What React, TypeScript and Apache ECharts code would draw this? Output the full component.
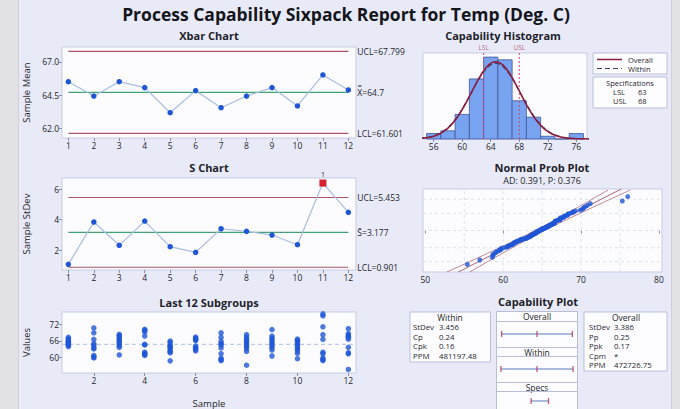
import React, { useEffect, useRef } from "react";
import * as echarts from "echarts";

// ---------- data ----------
const subgroupIds = [1, 2, 3, 4, 5, 6, 7, 8, 9, 10, 11, 12];
const xbarValues = [65.51, 64.42, 65.51, 65.06, 63.16, 64.83, 63.54, 64.42, 65.06, 63.67, 66.02, 64.88];
const sValues = [1.09, 3.85, 2.33, 3.91, 2.24, 1.87, 3.41, 3.24, 3.0, 2.37, 6.39, 4.48];
const xbarLimits = [67.799, 64.7, 61.601]; // UCL, center, LCL
const sLimits = [5.453, 3.177, 0.901];
const xbarLimitLabels = ["UCL=67.799", "X\u033F=64.7", "LCL=61.601"];
const sLimitLabels = ["UCL=5.453", "S\u0304=3.177", "LCL=0.901"];
const outOfControl = [11];

const g1 = [63.9, 64.3, 64.7, 65.0, 65.3, 65.6, 65.9, 66.3, 66.7, 67.3];
const g2 = [70.8, 69.0, 66.6, 65.0, 64.3, 63.4, 63.0, 60.6, 60.0, 59.7];
const g3 = [68.4, 67.9, 67.3, 66.6, 66.0, 65.5, 64.8, 64.2, 63.6, 60.8];
const g4 = [70.3, 69.9, 69.3, 67.8, 64.7, 64.5, 61.8, 61.4, 61.0, 60.6];
const g5 = [65.9, 65.4, 64.3, 64.0, 63.7, 63.2, 62.3, 62.0, 61.6, 58.6];
const g6 = [67.4, 67.0, 66.7, 66.4, 66.1, 64.1, 63.6, 63.2, 62.7, 62.3];
const g7 = [69.0, 67.3, 65.8, 65.0, 64.5, 63.4, 61.3, 59.6, 59.0, 58.7];
const g8 = [68.3, 67.4, 66.6, 65.9, 65.3, 64.6, 63.9, 63.1, 62.1, 57.0];
const g9 = [70.2, 67.8, 67.0, 66.3, 65.6, 64.9, 64.2, 63.5, 62.6, 60.4];
const g10 = [66.65, 66.2, 65.6, 65.0, 64.3, 63.7, 63.0, 62.3, 61.4, 59.4];
const g11 = [76.0, 75.3, 71.2, 68.3, 66.6, 61.8, 61.2, 59.7, 59.1, 58.7];
const g12 = [70.5, 68.7, 68.2, 67.75, 67.3, 66.65, 63.6, 61.6, 61.2, 55.4];
const subgroupValues = [g1, g2, g3, g4, g5, g6, g7, g8, g9, g10, g11, g12];

const histBinEdges = [55, 57, 59, 61, 63, 65, 67, 69, 71, 73, 75, 77];
const histCounts = [2, 3, 9, 22, 30, 29, 14, 8, 1, 0, 2];

const processMean = 64.7;
const overallSd = 3.386;
const withinSd = 3.456;
const lsl = 63;
const usl = 68;

const xbarTicks = [62, 64.5, 67];
const sTicks = [2, 4, 6];
const valueTicks = [60, 66, 72];
const evenTicks = [2, 4, 6, 8, 10, 12];
const histTicks = [56, 60, 64, 68, 72, 76];
const probTicks = [50, 60, 70, 80];
const probGridX = [55, 60, 65, 70, 75];
const probGridP = [0.01, 0.1, 0.5, 0.9, 0.99];

const withinLabels = ["StDev", "Cp", "Cpk", "PPM"];
const withinStats = ["3.456", "0.24", "0.16", "481197.48"];
const overallLabels = ["StDev", "Pp", "Ppk", "Cpm", "PPM"];
const overallStats = ["3.386", "0.25", "0.17", "*", "472726.75"];

// ---------- helpers ----------
const FONT = '"Open Sans", "Noto Sans", sans-serif';
const TXT = "#1f1f2b";
const LIMIT_RED = "#ad5564";
const CENTER_GREEN = "#41a375";

function invNorm(p: number): number {
  const a = [-3.969683028665376e1, 2.209460984245205e2, -2.759285104469687e2, 1.38357751867269e2, -3.066479806614716e1, 2.506628277459239];
  const b = [-5.447609879822406e1, 1.615858368580409e2, -1.556989798598866e2, 6.680131188771972e1, -1.328068155288572e1];
  const c = [-7.784894002430293e-3, -3.223964580411365e-1, -2.400758277161838, -2.549732539343734, 4.374664141464968, 2.938163982698783];
  const d = [7.784695709041462e-3, 3.224671290700398e-1, 2.445134137142996, 3.754408661907416];
  const pl = 0.02425;
  if (p < pl) {
    const q = Math.sqrt(-2 * Math.log(p));
    return (((((c[0] * q + c[1]) * q + c[2]) * q + c[3]) * q + c[4]) * q + c[5]) / ((((d[0] * q + d[1]) * q + d[2]) * q + d[3]) * q + 1);
  }
  if (p <= 1 - pl) {
    const q = p - 0.5;
    const r = q * q;
    return ((((((a[0] * r + a[1]) * r + a[2]) * r + a[3]) * r + a[4]) * r + a[5]) * q) / (((((b[0] * r + b[1]) * r + b[2]) * r + b[3]) * r + b[4]) * r + 1);
  }
  const q = Math.sqrt(-2 * Math.log(1 - p));
  return -(((((c[0] * q + c[1]) * q + c[2]) * q + c[3]) * q + c[4]) * q + c[5]) / ((((d[0] * q + d[1]) * q + d[2]) * q + d[3]) * q + 1);
}

function axis(gridIndex: number, min: number, max: number, ticks: number[] | null, extra: any = {}) {
  const show = ticks !== null;
  const { labelFormatter, ...rest } = extra;
  return {
    type: "value",
    gridIndex,
    min,
    max,
    axisLine: { show: false },
    splitLine: { show: false },
    axisTick: show ? { show: true, length: 3, lineStyle: { color: "#8a8fa8" }, customValues: ticks } : { show: false },
    axisLabel: show
      ? { show: true, customValues: ticks, fontSize: 8.5, color: TXT, fontFamily: FONT, margin: 3, formatter: labelFormatter }
      : { show: false },
    nameTextStyle: { fontSize: 9.5, color: TXT, fontFamily: FONT },
    ...rest,
  };
}

function limitSeries(gi: number, limits: number[], labels: string[]) {
  const colors = [LIMIT_RED, CENTER_GREEN, LIMIT_RED];
  return limits.map((v, i) => ({
    type: "line",
    xAxisIndex: gi,
    yAxisIndex: gi,
    data: [[subgroupIds[0], v], [subgroupIds[subgroupIds.length - 1], v]],
    symbol: "none",
    silent: true,
    lineStyle: { color: colors[i], width: 1.1 },
    endLabel: { show: true, formatter: labels[i], distance: 9, fontSize: 8.5, color: TXT, fontFamily: FONT },
    z: 2,
  }));
}

function gtext(text: string, x: number, y: number, size: number, opts: any = {}) {
  return {
    type: "text",
    x,
    y,
    style: {
      text,
      fill: opts.fill || TXT,
      fontSize: size,
      fontWeight: opts.bold ? "bold" : "normal",
      fontFamily: FONT,
      align: opts.align || "left",
      verticalAlign: opts.valign || "middle",
      lineHeight: opts.lineHeight,
    },
  };
}

function gbox(x: number, y: number, w: number, h: number) {
  return { type: "rect", shape: { x, y, width: w, height: h }, style: { fill: "#fdfdff", stroke: "#b9bfd9", lineWidth: 1 } };
}

function gline(x1: number, y1: number, x2: number, y2: number, stroke: string, dash?: number[], w = 1) {
  return { type: "line", shape: { x1, y1, x2, y2 }, style: { stroke, lineWidth: w, lineDash: dash } };
}

function buildOption() {
  const allValues = subgroupValues.flat();
  const n = allValues.length;
  const sorted = [...allValues].sort((a, b) => a - b);
  const probPoints = sorted.map((v, i) => [v, invNorm((i + 1 - 0.3) / (n + 0.4))]);

  const zMax = invNorm(0.999);
  const zs: number[] = [];
  for (let z = -zMax; z <= zMax + 1e-9; z += 0.1) zs.push(z);
  const fitLine = [[processMean - overallSd * zMax, -zMax], [processMean + overallSd * zMax, zMax]];
  const band = (sign: number) =>
    zs.map((z) => [processMean + overallSd * z + sign * 1.96 * overallSd * Math.sqrt(1 / n + (z * z) / (2 * (n - 1))), z]);

  const pdfCurve = (sd: number) => {
    const pts: number[][] = [];
    for (let x = 54; x <= 78.001; x += 0.2) {
      const y = (n * 2 * Math.exp(-0.5 * ((x - processMean) / sd) ** 2)) / (sd * Math.sqrt(2 * Math.PI));
      pts.push([x, y]);
    }
    return pts;
  };

  const subgroupPoints: number[][] = [];
  subgroupValues.forEach((g, i) => g.forEach((v) => subgroupPoints.push([subgroupIds[i], v])));

  const histTop = 31.5;
  const gridCommon = { show: true, backgroundColor: "#fcfcff", borderColor: "#c6cbe3", borderWidth: 1, containLabel: false };
  const grids = [
    { left: 62, top: 47, width: 294, height: 91, ...gridCommon },
    { left: 62, top: 178, width: 294, height: 92, ...gridCommon },
    { left: 62, top: 312, width: 294, height: 81, ...gridCommon },
    { left: 423, top: 53, width: 164, height: 86, ...gridCommon },
    { left: 423, top: 189, width: 239, height: 83, ...gridCommon },
    { left: 497, top: 322, width: 80, height: 24, show: false },
    { left: 497, top: 357, width: 80, height: 24, show: false },
    { left: 497, top: 393, width: 80, height: 20, show: false },
  ];

  const capMin = 53.2;
  const capMax = 76.2;

  const xAxes = [
    axis(0, 0.75, 12.3, subgroupIds),
    axis(1, 0.75, 12.3, subgroupIds),
    axis(2, 0.75, 12.3, evenTicks, { name: "Sample", nameLocation: "middle", nameGap: 25 }),
    axis(3, 54.5, 77.5, histTicks),
    axis(4, 49.7, 80.4, probTicks),
    axis(5, capMin, capMax, null),
    axis(6, capMin, capMax, null),
    axis(7, capMin, capMax, null),
  ];
  const yAxes = [
    axis(0, 61.25, 68.13, xbarTicks, { name: "Sample Mean", nameLocation: "middle", nameGap: 31, labelFormatter: (v: number) => v.toFixed(1) }),
    axis(1, 0.72, 6.72, sTicks, { name: "Sample StDev", nameLocation: "middle", nameGap: 31 }),
    axis(2, 54.1, 76.7, valueTicks, { name: "Values", nameLocation: "middle", nameGap: 31 }),
    axis(3, 0, histTop, null),
    axis(4, -zMax, zMax, null),
    axis(5, -1, 1, null),
    axis(6, -1, 1, null),
    axis(7, -1, 1, null),
  ];

  const ptColor = "#1f56d6";
  const lineColor = "#a8bde2";
  const capLineColor = "#5b7bc0";
  const capTickColor = "#b3334f";
  const specColor = "#cf4a6c";

  const capSeries = (gi: number, lo: number, mid: number | null, hi: number) => [
    {
      type: "line",
      xAxisIndex: gi,
      yAxisIndex: gi,
      data: [[lo, 0], [hi, 0]],
      symbol: "none",
      lineStyle: { color: capLineColor, width: 1 },
      silent: true,
    },
    {
      type: "scatter",
      xAxisIndex: gi,
      yAxisIndex: gi,
      data: (mid === null ? [lo, hi] : [lo, mid, hi]).map((v) => [v, 0]),
      symbol: "rect",
      symbolSize: [1.3, 6],
      itemStyle: { color: capTickColor },
      silent: true,
      z: 3,
    },
  ];

  const series: any[] = [
    // Xbar
    ...limitSeries(0, xbarLimits, xbarLimitLabels),
    {
      type: "line",
      xAxisIndex: 0,
      yAxisIndex: 0,
      data: subgroupIds.map((x, i) => [x, xbarValues[i]]),
      symbol: "circle",
      symbolSize: 5.5,
      lineStyle: { color: lineColor, width: 1.2 },
      itemStyle: { color: ptColor },
      z: 3,
    },
    // S chart
    ...limitSeries(1, sLimits, sLimitLabels),
    {
      type: "line",
      xAxisIndex: 1,
      yAxisIndex: 1,
      data: subgroupIds.map((x, i) =>
        outOfControl.includes(x)
          ? {
              value: [x, sValues[i]],
              symbol: "rect",
              symbolSize: 7,
              itemStyle: { color: "#d81f2c" },
              label: { show: true, formatter: "1", position: "top", distance: 2, fontSize: 7, color: TXT, fontFamily: FONT },
            }
          : [x, sValues[i]]
      ),
      symbol: "circle",
      symbolSize: 5.5,
      lineStyle: { color: lineColor, width: 1.2 },
      itemStyle: { color: ptColor },
      z: 3,
    },
    // Last 12 subgroups
    {
      type: "line",
      xAxisIndex: 2,
      yAxisIndex: 2,
      data: [[0.75, processMean], [12.3, processMean]],
      symbol: "none",
      silent: true,
      lineStyle: { color: "#bccbea", type: [4, 3], width: 1.2 },
      z: 1,
    },
    {
      type: "scatter",
      xAxisIndex: 2,
      yAxisIndex: 2,
      data: subgroupPoints,
      symbol: "circle",
      symbolSize: 5.5,
      itemStyle: { color: ptColor },
      z: 3,
    },
    // Histogram
    {
      type: "custom",
      xAxisIndex: 3,
      yAxisIndex: 3,
      data: histCounts.map((c, i) => [histBinEdges[i], histBinEdges[i + 1], c]),
      encode: { x: [0, 1], y: 2 },
      renderItem: (params: any, api: any) => {
        const p0 = api.coord([api.value(0), 0]);
        const p1 = api.coord([api.value(1), api.value(2)]);
        return {
          type: "rect",
          shape: { x: p0[0], y: p1[1], width: p1[0] - p0[0], height: p0[1] - p1[1] },
          style: { fill: "#78a3f0", stroke: "#42569a", lineWidth: 0.8 },
        };
      },
      z: 2,
    },
    ...[lsl, usl].map((v) => ({
      type: "line",
      xAxisIndex: 3,
      yAxisIndex: 3,
      data: [[v, 0], [v, histTop]],
      symbol: "none",
      silent: true,
      lineStyle: { color: specColor, type: [2, 2], width: 1 },
      z: 6,
    })),
    {
      type: "scatter",
      xAxisIndex: 3,
      yAxisIndex: 3,
      data: [
        { value: [lsl, histTop], label: { formatter: "LSL" } },
        { value: [usl, histTop], label: { formatter: "USL" } },
      ],
      symbolSize: 0,
      silent: true,
      label: { show: true, position: "top", distance: 2, fontSize: 6.5, color: "#b23a58", fontFamily: FONT },
      z: 6,
    },
    {
      type: "line",
      xAxisIndex: 3,
      yAxisIndex: 3,
      data: pdfCurve(withinSd),
      symbol: "none",
      smooth: true,
      lineStyle: { color: "#3b3d6b", width: 1.2, type: [5, 3] },
      z: 4,
    },
    {
      type: "line",
      xAxisIndex: 3,
      yAxisIndex: 3,
      data: pdfCurve(overallSd),
      symbol: "none",
      smooth: true,
      lineStyle: { color: "#8c1d3f", width: 1.6 },
      z: 5,
    },
    // Normal probability plot grid
    ...probGridX.map((v) => ({
      type: "line",
      xAxisIndex: 4,
      yAxisIndex: 4,
      data: [[v, -zMax], [v, zMax]],
      symbol: "none",
      silent: true,
      lineStyle: { color: "#dde1ef", type: [3, 3], width: 1 },
      z: 1,
    })),
    ...probGridP.map((p) => ({
      type: "line",
      xAxisIndex: 4,
      yAxisIndex: 4,
      data: [[49.7, invNorm(p)], [80.4, invNorm(p)]],
      symbol: "none",
      silent: true,
      lineStyle: { color: "#dde1ef", type: [3, 3], width: 1 },
      z: 1,
    })),
    { type: "line", xAxisIndex: 4, yAxisIndex: 4, data: band(-1), symbol: "none", lineStyle: { color: "#b87886", width: 0.9 }, z: 3 },
    { type: "line", xAxisIndex: 4, yAxisIndex: 4, data: band(1), symbol: "none", lineStyle: { color: "#b87886", width: 0.9 }, z: 3 },
    { type: "line", xAxisIndex: 4, yAxisIndex: 4, data: fitLine, symbol: "none", lineStyle: { color: "#a35468", width: 0.9 }, z: 3 },
    {
      type: "scatter",
      xAxisIndex: 4,
      yAxisIndex: 4,
      data: probPoints,
      symbol: "circle",
      symbolSize: 5,
      itemStyle: { color: ptColor },
      z: 4,
    },
    // Capability plot
    ...capSeries(5, processMean - 3 * overallSd, processMean, processMean + 3 * overallSd),
    ...capSeries(6, processMean - 3 * withinSd, processMean, processMean + 3 * withinSd),
    ...capSeries(7, lsl, null, usl),
  ];

  const graphic: any[] = [
    { type: "rect", shape: { x: 0, y: 0, width: 18, height: 409 }, style: { fill: "#e2e2e4" }, silent: true },
    { type: "rect", shape: { x: 672, y: 0, width: 8, height: 409 }, style: { fill: "#e2e2e4" }, silent: true },
    gline(18.5, 0, 18.5, 409, "#d0d0d8"),
    gline(671.5, 0, 671.5, 409, "#d0d0d8"),
    gtext("Process Capability Sixpack Report for Temp (Deg. C)", 346, 14, 17.5, { bold: true, align: "center", fill: "#15151c" }),
    gtext("Xbar Chart", 209, 35, 11, { bold: true, align: "center" }),
    gtext("S Chart", 209, 167, 11, { bold: true, align: "center" }),
    gtext("Last 12 Subgroups", 209, 302, 11, { bold: true, align: "center" }),
    gtext("Capability Histogram", 503, 35, 11, { bold: true, align: "center" }),
    gtext("Normal Prob Plot", 542, 167, 11, { bold: true, align: "center" }),
    gtext("AD: 0.391, P: 0.376", 542, 180, 9, { align: "center" }),
    gtext("Capability Plot", 538, 301, 11, { bold: true, align: "center" }),
    // histogram legend
    gbox(593, 53, 74, 21),
    gline(597, 59.5, 622, 59.5, "#8c1d3f", undefined, 1.5),
    gline(597, 68.5, 622, 68.5, "#3b3d6b", [5, 3], 1.2),
    gtext("Overall\nWithin", 628, 55, 7.5, { valign: "top", lineHeight: 9 }),
    gbox(593, 77, 74, 31),
    gtext("Specifications", 630, 82.5, 7.5, { align: "center", lineHeight: 9 }),
    gtext("LSL\nUSL", 613, 87.5, 7.5, { valign: "top", lineHeight: 9 }),
    gtext(`${lsl}\n${usl}`, 638, 87.5, 7.5, { valign: "top", lineHeight: 9 }),
    // within table
    gbox(410, 312, 80.5, 50),
    gtext("Within", 450, 317.5, 8.5, { align: "center", lineHeight: 9 }),
    gtext(withinLabels.join("\n"), 413, 322.5, 7.8, { valign: "top", lineHeight: 9.5 }),
    gtext(withinStats.join("\n"), 439, 322.5, 7.8, { valign: "top", lineHeight: 9.5 }),
    // overall table
    gbox(584, 312, 83, 59),
    gtext("Overall", 626, 317.5, 8.5, { align: "center", lineHeight: 9 }),
    gtext(overallLabels.join("\n"), 589, 322.5, 7.8, { valign: "top", lineHeight: 9.5 }),
    gtext(overallStats.join("\n"), 614, 322.5, 7.8, { valign: "top", lineHeight: 9.5 }),
    // middle capability box
    gbox(496.5, 311.5, 81, 110),
    gtext("Overall", 537, 316.5, 8.5, { align: "center", lineHeight: 9 }),
    gline(496.5, 321.5, 577.5, 321.5, "#b9bfd9"),
    gline(496.5, 347.5, 577.5, 347.5, "#b9bfd9"),
    gtext("Within", 537, 352, 8.5, { align: "center", lineHeight: 9 }),
    gline(496.5, 356.5, 577.5, 356.5, "#b9bfd9"),
    gline(496.5, 382.5, 577.5, 382.5, "#b9bfd9"),
    gtext("Specs", 537, 387.5, 8.5, { align: "center", lineHeight: 9 }),
    gline(496.5, 391.5, 577.5, 391.5, "#b9bfd9"),
  ];

  return {
    animation: false,
    backgroundColor: "#e8eaf8",
    textStyle: { fontFamily: FONT },
    grid: grids,
    xAxis: xAxes,
    yAxis: yAxes,
    series,
    graphic: { elements: graphic },
  };
}

export default function App() {
  const ref = useRef<HTMLDivElement>(null);
  useEffect(() => {
    if (!ref.current) return;
    const chart = echarts.init(ref.current, undefined, { renderer: "svg" });
    chart.setOption(buildOption() as any);
    return () => chart.dispose();
  }, []);
  return <div ref={ref} style={{ position: "fixed", left: 0, top: 0, width: 680, height: 409 }} />;
}
